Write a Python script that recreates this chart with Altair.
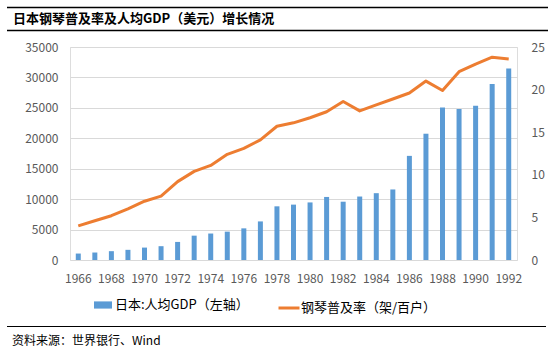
import altair as alt
import pandas as pd

years = ["1966", "1967", "1968", "1969", "1970", "1971", "1972", "1973", "1974",
         "1975", "1976", "1977", "1978", "1979", "1980", "1981", "1982", "1983",
         "1984", "1985", "1986", "1987", "1988", "1989", "1990", "1991", "1992"]
gdp = [1060, 1230, 1450, 1670, 2040, 2270, 2970, 4000, 4350, 4660, 5200, 6340,
       8820, 9100, 9460, 10360, 9580, 10430, 10980, 11590, 17110, 20750, 25050,
       24810, 25360, 28930, 31460]
piano = [4.0, 4.6, 5.2, 6.0, 6.9, 7.5, 9.2, 10.4, 11.1, 12.4, 13.1, 14.1, 15.7,
         16.1, 16.7, 17.4, 18.6, 17.5, 18.2, 18.9, 19.6, 21.0, 19.9, 22.1, 23.0,
         23.8, 23.6]
x_labels = ["1966", "1968", "1970", "1972", "1974", "1976", "1978", "1980",
            "1982", "1984", "1986", "1988", "1990", "1992"]
gdp_ticks = [0, 5000, 10000, 15000, 20000, 25000, 30000, 35000]
piano_ticks = [0, 5, 10, 15, 20, 25]
title_text = "日本钢琴普及率及人均GDP（美元）增长情况"
source_text = "资料来源：世界银行、Wind"
gdp_name = "日本:人均GDP（左轴）"
piano_name = "钢琴普及率（架/百户）"

FONT = "Noto Sans CJK SC"
W, H = 447, 213
PL, PT = 70, 47

df = pd.DataFrame({"year": years, "gdp": gdp, "piano": piano,
                   "s1": gdp_name, "s2": piano_name})

label_list = "[" + ",".join("'" + v + "'" for v in x_labels) + "]"
xenc = alt.X("year:N", title=None,
             scale=alt.Scale(paddingInner=0, paddingOuter=0),
             axis=alt.Axis(labelExpr="indexof(" + label_list + ", datum.label) >= 0 ? datum.label : ''",
                           labelAngle=0, domain=False, ticks=False,
                           tickSize=0, labelPadding=13, labelFontSize=12,
                           labelOverlap=False, labelBound=False, labelFlush=False,
                           labelColor="#595959", labelFont=FONT, grid=False))

bars = alt.Chart(df).mark_bar(size=5).encode(
    x=xenc,
    y=alt.Y("gdp:Q", title=None, scale=alt.Scale(domain=[0, 35000], nice=False),
            axis=alt.Axis(values=gdp_ticks, format="d", grid=True, gridColor="#D9D9D9",
                          gridWidth=1, domain=False, ticks=False, tickSize=0,
                          labelPadding=12, labelFontSize=12, labelColor="#595959",
                          labelFont=FONT)),
    fill=alt.Fill("s1:N", scale=alt.Scale(range=["#5B9BD5"]),
                  legend=alt.Legend(title=None, orient="none", legendX=24,
                                    legendY=249,
                                    symbolType="M-1,-0.4H1V0.4H-1Z",
                                    symbolSize=324, symbolStrokeWidth=0,
                                    labelFontSize=13, labelFont=FONT,
                                    labelColor="#000000", labelOffset=3)),
)

line = alt.Chart(df).mark_line(strokeWidth=3, strokeJoin="round").encode(
    x=xenc,
    y=alt.Y("piano:Q", title=None, scale=alt.Scale(domain=[0, 25], nice=False),
            axis=alt.Axis(values=piano_ticks, orient="right", grid=False,
                          domain=False, ticks=False, tickSize=0, labelPadding=14,
                          labelFontSize=12, labelColor="#595959", labelFont=FONT)),
    stroke=alt.Stroke("s2:N", scale=alt.Scale(range=["#ED7D31"]),
                      legend=alt.Legend(title=None, orient="none", legendX=207,
                                        legendY=249, symbolType="stroke",
                                        symbolSize=441, symbolStrokeWidth=3,
                                        labelFontSize=13, labelFont=FONT,
                                        labelColor="#000000", labelOffset=0)),
)

deco = pd.DataFrame({"k": [0]})
title = alt.Chart(deco).mark_text(align="left", baseline="middle", fontSize=13,
                                  fontWeight="bold", font=FONT, color="#000000").encode(
    x=alt.value(13 - PL), y=alt.value(19 - PT), text=alt.value(title_text))
source = alt.Chart(deco).mark_text(align="left", baseline="middle", fontSize=12,
                                   font=FONT, color="#000000").encode(
    x=alt.value(12 - PL), y=alt.value(341 - PT), text=alt.value(source_text))
rule_top = alt.Chart(deco).mark_rule(color="#000000", strokeWidth=1.5).encode(
    x=alt.value(7 - PL), x2=alt.value(548 - PL), y=alt.value(7.5 - PT))
rule_title = alt.Chart(deco).mark_rule(color="#000000", strokeWidth=1.5).encode(
    x=alt.value(7 - PL), x2=alt.value(548 - PL), y=alt.value(30.5 - PT))
rule_src = alt.Chart(deco).mark_rule(color="#000000", strokeWidth=1.2).encode(
    x=alt.value(7 - PL), x2=alt.value(546 - PL), y=alt.value(326.5 - PT))

main = alt.layer(bars, line).resolve_scale(y="independent", fill="independent",
                                           stroke="independent")

chart = alt.layer(main, title, source, rule_top, rule_title, rule_src).properties(
    width=W, height=H,
    autosize=alt.AutoSizeParams(type="none"),
    padding={"left": PL, "top": PT, "right": 559 - PL - W, "bottom": 353 - PT - H},
).configure_view(stroke=None).configure(background="white")

chart.save("out.html", embed_options={"renderer": "svg", "actions": False})
